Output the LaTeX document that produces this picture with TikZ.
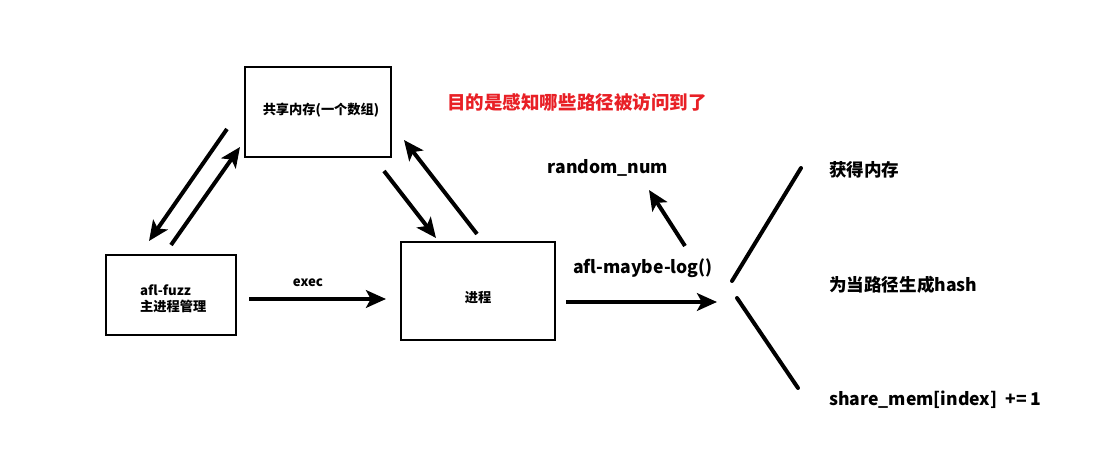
\documentclass[tikz,border=0pt]{standalone}
\usepackage{fontspec}
\setmainfont{Noto Sans CJK SC}
\usepackage{tikz}
\usetikzlibrary{arrows.meta, positioning}
\definecolor{goalred}{RGB}{232,32,38}

\tikzset{
  box/.style = {draw, line width=2pt, inner sep=0pt},
  thickarrow/.style = {line width=3.4pt, -{Stealth[length=17pt, width=15pt, inset=4pt]}},
  fanline/.style = {line width=3.4pt, line cap=round},
  lbl/.style = {font=\bfseries\fontsize{11.3}{13.5}\selectfont},
  biglbl/.style = {font=\bfseries\fontsize{15}{18}\selectfont}
}

\begin{document}
\begin{tikzpicture}[x=0.03cm, y=-0.03cm]
\useasboundingbox (0,0) rectangle (1096,454);

\node [box, minimum width=146*0.03cm, minimum height=90*0.03cm] (shm) at (318,112) {};
\node [lbl] at (321,110) {共享内存(一个数组)};
\node [box, minimum width=130*0.03cm, minimum height=80*0.03cm] (fuzz) at (171,295) {};
\node [lbl, align=left, anchor=west] (fuzztxt) at (136,299) {afl-fuzz\\主进程管理};
\node [box, minimum width=154*0.03cm, minimum height=98*0.03cm] (proc) at (478,291) {};
\node [lbl] at (478,298) {进程};

\node [biglbl, text=goalred, font=\bfseries\fontsize{15.8}{18}\selectfont] (goal) at (577,102) {目的是感知哪些路径被访问到了};
\node [biglbl] (rnd) at (608,168) {random\_num};
\node [biglbl] (maybe) at (643,268) {afl-maybe-log()};
\node [biglbl, anchor=west] (getmem) at (825,170) {获得内存};
\node [biglbl, anchor=west] (hash) at (825,285) {为当路径生成hash};
\node [biglbl, anchor=west] (inc) at (825,400) {share\_mem[index]\ \ += 1};
\node [lbl] (execl) at (308,283) {exec};

% arrow ends
\coordinate (a1) at (227,129); \coordinate (a2) at (149,241);
\coordinate (b1) at (171,245); \coordinate (b2) at (240,147);
\coordinate (c1) at (384,171); \coordinate (c2) at (436,238);
\coordinate (d1) at (477,234); \coordinate (d2) at (404,140);
\coordinate (e1) at (249,299); \coordinate (e2) at (386,299);
\coordinate (f1) at (685,246); \coordinate (f2) at (649,190);
\coordinate (g1) at (566,302); \coordinate (g2) at (717,302);
\coordinate (h1) at (732,281); \coordinate (h2) at (801,168);
\coordinate (i1) at (737,298); \coordinate (i2) at (798,388);

\draw [thickarrow] (a1) -- (a2);
\draw [thickarrow] (b1) -- (b2);
\draw [thickarrow] (c1) -- (c2);
\draw [thickarrow] (d1) -- (d2);
\draw [thickarrow] (e1) -- (e2);
\draw [thickarrow] (f1) -- (f2);
\draw [thickarrow] (g1) -- (g2);
\draw [fanline] (h1) -- (h2);
\draw [fanline] (i1) -- (i2);
\end{tikzpicture}
\end{document}
